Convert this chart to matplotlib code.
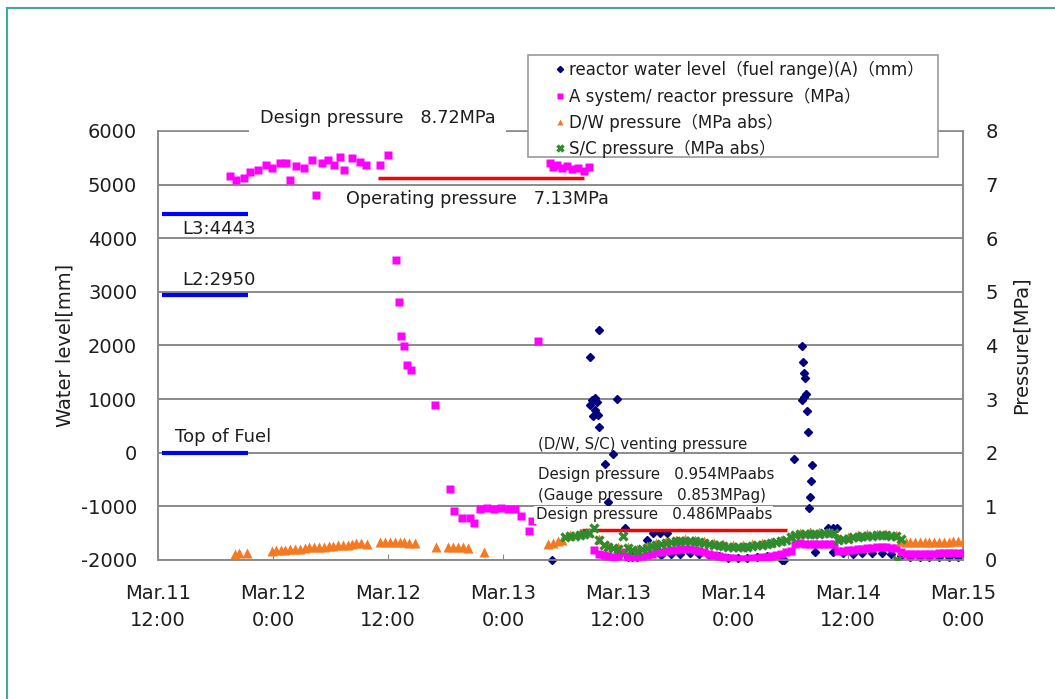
import matplotlib
matplotlib.use('Agg')
import matplotlib.pyplot as plt
from matplotlib.patches import Rectangle

plt.rcParams['font.family'] = ['DejaVu Sans', 'Noto Sans CJK JP']
plt.rcParams['axes.unicode_minus'] = False

# hours after Mar.11 12:00
tick_hours = [0, 12, 24, 36, 48, 60, 72, 84]
tick_labels = ['Mar.11\n12:00', 'Mar.12\n0:00', 'Mar.12\n12:00', 'Mar.13\n0:00',
               'Mar.13\n12:00', 'Mar.14\n0:00', 'Mar.14\n12:00', 'Mar.15\n0:00']

# reactor water level (fuel range)(A)  [mm]
lv_h = [41.1, 45.1, 46.0, 45.3, 45.6, 45.8, 45.1, 45.6, 45.4, 45.9, 46.0, 47.9, 47.5, 46.6, 47.0,
        48.7, 51.0, 51.7, 52.4, 53.1,
        48.0, 49.0, 49.5, 50.0, 52.5, 53.5, 54.5, 55.5, 56.5, 57.5, 58.5, 59.5, 60.5, 61.5, 62.5, 63.5,
        65.1, 65.3,
        67.2, 67.3, 67.4, 67.5, 67.4, 67.6, 67.2, 67.7, 67.8, 66.4, 68.2, 68.1, 68.0, 67.9, 68.6,
        69.9, 70.4, 70.9, 70.4,
        71.5, 72.5, 73.5, 74.5, 75.5, 76.5, 77.5, 78.5, 79.5, 80.5, 81.5, 82.5, 83.5]
lv_mm = [-2000, 1786, 2289, 980, 1020, 946, 890, 797, 685, 700, 480, 1000, -24, -210, -920,
         -1404, -1628, -1500, -1500, -1500,
         -1920, -1950, -1950, -1940, -1910, -1890, -1880, -1875, -1885, -1905, -1935, -1955, -1960,
         -1960, -1950, -1935,
         -2000, -2000,
         1990, 1692, 1487, 1393, 1040, 1095, 983, 778, 386, -117, -229, -527, -826, -1031, -1852,
         -1404, -1404, -1404, -1852,
         -1870, -1880, -1875, -1870, -1875, -1880, -1935, -1945, -1950, -1950, -1945, -1950, -1950]

# A system / reactor pressure [MPa]
rp_h = [7.5, 8.1, 9.0, 9.6, 10.4, 11.3, 11.9, 12.7, 13.4, 13.8, 14.4, 15.2, 16.1, 16.5, 17.1, 17.7,
        18.4, 19.0, 19.4, 20.2, 21.1, 21.7, 23.2, 24.0,
        24.8, 25.1, 25.4, 25.7, 26.0, 26.4, 28.9, 30.5, 30.9, 31.7, 32.6, 33.0, 33.6, 34.3, 35.1,
        35.8, 36.5, 37.3, 37.9, 39.0, 38.7, 39.7,
        40.9, 41.2, 41.6, 42.2, 42.7, 43.2, 43.8, 44.5, 45.0,
        45.5, 46.0, 46.5, 47.0, 47.5, 48.0, 48.5, 49.0, 49.5, 50.0, 50.5, 51.0, 51.5, 52.0, 52.5,
        53.0, 53.5, 54.0, 54.5, 55.0, 55.5, 56.0, 56.5, 57.0, 57.5, 58.0, 58.5, 59.0, 59.5, 60.0,
        60.5, 61.0, 61.5, 62.0, 62.5, 63.0, 63.5, 64.0, 64.5, 65.0, 65.5, 66.0, 66.5, 67.0, 67.5,
        68.0, 68.5, 69.0, 69.5, 70.0, 70.5, 71.0, 71.5, 72.0, 72.5, 73.0, 73.5, 74.0, 74.5, 75.0,
        75.5, 76.0, 76.5, 77.0, 77.5, 78.0, 78.5, 79.0, 79.5, 80.0, 80.5, 81.0, 81.5, 82.0, 82.5,
        83.0, 83.5, 84.0]
rp_mpa = [7.16, 7.09, 7.13, 7.24, 7.28, 7.37, 7.31, 7.41, 7.41, 7.09, 7.35, 7.31, 7.46, 6.81, 7.41,
          7.46, 7.37, 7.52, 7.28, 7.50, 7.43, 7.37, 7.37, 7.56,
          5.60, 4.81, 4.18, 3.99, 3.64, 3.54, 2.89, 1.32, 0.91, 0.78, 0.78, 0.69, 0.95, 0.96, 0.95,
          0.96, 0.95, 0.95, 0.82, 0.73, 0.54, 4.09,
          7.41, 7.33, 7.37, 7.31, 7.35, 7.29, 7.31, 7.26, 7.33,
          0.18, 0.12, 0.09, 0.07, 0.06, 0.07, 0.14, 0.05, 0.03, 0.04, 0.07, 0.10, 0.12, 0.14, 0.15,
          0.17, 0.18, 0.19, 0.20, 0.20, 0.20, 0.19, 0.17, 0.15, 0.12, 0.10, 0.07, 0.05, 0.04, 0.03,
          0.02, 0.02, 0.02, 0.03, 0.04, 0.05, 0.06, 0.08, 0.10, 0.12, 0.14, 0.16, 0.30, 0.31, 0.30,
          0.29, 0.29, 0.29, 0.30, 0.30, 0.30, 0.16, 0.17, 0.18, 0.19, 0.20, 0.21, 0.22, 0.23, 0.24,
          0.24, 0.24, 0.23, 0.22, 0.14, 0.12, 0.12, 0.12, 0.12, 0.12, 0.12, 0.12, 0.13, 0.13, 0.13,
          0.13, 0.13, 0.13]

# D/W pressure [MPa abs]
dw_h = [8.0, 8.5, 9.3,
        11.9, 12.3, 12.8, 13.3, 13.8, 14.3, 14.8,
        15.3, 15.8, 16.3, 16.8, 17.3, 17.8, 18.3, 18.8, 19.3, 19.8,
        20.2, 20.7, 21.2, 21.8,
        23.2, 23.7, 24.2, 24.7, 25.2, 25.7, 26.2, 26.8,
        29.0, 30.3, 30.8, 31.3, 31.8, 32.3, 34.0,
        40.7, 41.2, 41.7, 42.2,
        43, 44, 45, 46, 47, 48, 49, 50, 51, 52, 53, 54, 55, 56, 57, 58, 59, 60, 61, 62, 63, 64,
        65, 66, 67, 68, 69, 70, 71, 72, 73, 74, 75, 76, 77,
        77.5, 78.0, 78.5, 79.0, 79.5, 80.0, 80.5, 81.0, 81.5, 82.0, 82.5, 83.0, 83.5, 84.0]
dw_mpa = [0.12, 0.13, 0.13,
          0.17, 0.18, 0.19, 0.19, 0.20, 0.20, 0.21,
          0.23, 0.24, 0.24, 0.25, 0.25, 0.26, 0.26, 0.27, 0.27, 0.28,
          0.30, 0.31, 0.31, 0.30,
          0.33, 0.34, 0.34, 0.34, 0.33, 0.33, 0.32, 0.32,
          0.25, 0.24, 0.25, 0.24, 0.24, 0.23, 0.14,
          0.30, 0.32, 0.35, 0.38,
          0.47, 0.50, 0.53, 0.40, 0.27, 0.24, 0.25, 0.20, 0.26, 0.31, 0.35, 0.38, 0.39, 0.38, 0.35,
          0.31, 0.29, 0.28, 0.28, 0.29, 0.31, 0.34, 0.38, 0.45, 0.51, 0.52, 0.52, 0.53, 0.41, 0.43,
          0.46, 0.48, 0.49, 0.49, 0.47,
          0.36, 0.34, 0.33, 0.33, 0.33, 0.33, 0.33, 0.34, 0.34, 0.34, 0.34, 0.35, 0.35, 0.36]

# S/C pressure [MPa abs]
sc_h = [42.5, 43.0, 43.5, 44.0, 44.5, 45.0, 45.5, 46.0, 46.5, 47.0, 47.5, 48.0, 48.5, 49.0, 49.5,
        50.0, 50.5, 51.0, 51.5, 52.0, 52.5, 53.0, 53.5, 54.0, 54.5, 55.0, 55.5, 56.0, 56.5, 57.0,
        57.5, 58.0, 58.5, 59.0, 59.5, 60.0, 60.5, 61.0, 61.5, 62.0, 62.5, 63.0, 63.5, 64.0, 64.5,
        65.0, 65.5, 66.0, 66.5, 67.0, 67.5, 68.0, 68.5, 69.0, 69.5, 70.0, 70.5, 71.0, 71.5, 72.0,
        72.5, 73.0, 73.5, 74.0, 74.5, 75.0, 75.5, 76.0, 76.5, 77.0, 77.5, 77.1]
sc_mpa = [0.42, 0.44, 0.45, 0.47, 0.48, 0.50, 0.60, 0.38, 0.28, 0.24, 0.22, 0.21, 0.45, 0.22, 0.18,
          0.17, 0.20, 0.23, 0.26, 0.28, 0.30, 0.32, 0.34, 0.35, 0.36, 0.36, 0.36, 0.35, 0.34, 0.32,
          0.30, 0.28, 0.27, 0.26, 0.25, 0.25, 0.25, 0.25, 0.25, 0.26, 0.27, 0.28, 0.30, 0.31, 0.33,
          0.35, 0.38, 0.42, 0.46, 0.48, 0.48, 0.49, 0.49, 0.49, 0.50, 0.50, 0.51, 0.38, 0.39, 0.40,
          0.42, 0.43, 0.44, 0.45, 0.45, 0.46, 0.46, 0.46, 0.45, 0.44, 0.40, 0.0]

# reference water levels (blue) and pressures (red)
level_vals = [4443, 2950, 0]
level_names = ['L3:4443', 'L2:2950', 'Top of Fuel']
op_pressure = 7.13
vent_pressure = 0.55

fig = plt.figure(figsize=(10.55, 6.99), dpi=100)
ax = fig.add_axes([0.1498, 0.1989, 0.7630, 0.6137])
ax2 = ax.twinx()

grey = '#8a8a8a'
txt = '#1e1e1e'
ax.set_xlim(0, 84)
ax.set_ylim(-2000, 6000)
ax.set_yticks(range(-2000, 6001, 1000))
ax.yaxis.grid(True, color=grey, lw=1.4)
ax.set_axisbelow(True)
ax2.set_ylim(0, 8)
ax2.set_yticks(range(0, 9))

for a in (ax, ax2):
    for s in a.spines.values():
        s.set_color(grey)
        s.set_linewidth(1.2)
ax2.spines['top'].set_visible(False)

ax.set_xticks(tick_hours)
ax.set_xticklabels(tick_labels, fontsize=14, color=txt)
for lbl in ax.get_xticklabels():
    lbl.set_linespacing(1.55)
ax.tick_params(axis='x', direction='in', length=4, color=grey, pad=17)
ax.tick_params(axis='y', length=0, pad=15, labelsize=14, labelcolor=txt)
ax2.tick_params(axis='y', length=0, pad=16, labelsize=14, labelcolor=txt)

ax.set_ylabel('Water level[mm]', fontsize=14, color=txt, labelpad=5)
ax2.set_ylabel('Pressure[MPa]', fontsize=14, color=txt, labelpad=10)

# reference lines
ax.hlines(level_vals, 0.4, 9.4, color='#0000ff', lw=3)
ax.text(2.5, 4172, level_names[0], fontsize=13, color=txt, va='center')
ax.text(2.5, 3221, level_names[1], fontsize=13, color=txt, va='center')
ax.text(1.8, 293, level_names[2], fontsize=13, color=txt, va='center')
ax2.hlines(op_pressure, 23.0, 44.4, color='#ff0000', lw=2.5)
ax2.hlines(vent_pressure, 44.2, 65.6, color='#ff0000', lw=2.5)

# data
h1, = ax.plot(lv_h, lv_mm, 'D', ls='none', color='#000080', ms=4.5, clip_on=False, zorder=3)
h2, = ax2.plot(rp_h, rp_mpa, 's', ls='none', color='#ff00ff', ms=6, mec='none', zorder=3)
h3, = ax2.plot(dw_h, dw_mpa, '^', ls='none', color='#f47920', ms=6.5, mec='none', zorder=3)
h4, = ax2.plot(sc_h, sc_mpa, 'x', ls='none', color='#2e8b2e', ms=5.5, mew=2.4, zorder=4)

# annotations
fig.text(260 / 1055, 1 - 118 / 699, 'Design pressure   8.72MPa', fontsize=12.7, color=txt,
         va='center', ha='left', bbox=dict(boxstyle='square,pad=0.6', fc='white', ec='none'))
ax2.text(19.6, 6.73, 'Operating pressure   7.13MPa', fontsize=12.7, color=txt, va='center')
ax2.text(39.65, 2.16, '(D/W, S/C) venting pressure', fontsize=10.8, color=txt, va='center')
ax2.text(39.65, 1.59, 'Design pressure   0.954MPaabs', fontsize=10.8, color=txt, va='center')
ax2.text(39.65, 1.21, '(Gauge pressure   0.853MPag)', fontsize=10.8, color=txt, va='center')
ax2.text(39.4, 0.84, 'Design pressure   0.486MPaabs', fontsize=10.8, color=txt, va='center',
         bbox=dict(boxstyle='square,pad=0.1', fc='white', ec='none'))

# legend box (Excel style, wide left margin)
ax2.add_patch(Rectangle((528 / 1055, 1 - 157 / 699), 410 / 1055, 102 / 699,
                        transform=fig.transFigure, clip_on=False, fc='white', ec='#9a9a9a',
                        lw=1.2, zorder=4.5))
leg = ax2.legend([h1, h2, h3, h4],
                 ['reactor water level（fuel range)(A)（mm）',
                  'A system/ reactor pressure（MPa）',
                  'D/W pressure（MPa abs）',
                  'S/C pressure（MPa abs）'],
                 loc='upper left', bbox_to_anchor=(555 / 1055, 1 - 61 / 699),
                 bbox_transform=fig.transFigure, fontsize=12, frameon=False,
                 borderaxespad=0, borderpad=0, handlelength=0.6, handletextpad=0.25,
                 labelspacing=0.48, markerscale=0.7, labelcolor=txt)
leg.set_zorder(5)

# outer frame of the slide
fig.add_artist(plt.Line2D([7 / 1055, 1], [1 - 8 / 699, 1 - 8 / 699], color='#3fa99a', lw=1.5,
                          transform=fig.transFigure))
fig.add_artist(plt.Line2D([7 / 1055, 7 / 1055], [0, 1 - 8 / 699], color='#3fa99a', lw=1.5,
                          transform=fig.transFigure))

fig.savefig('out.png', dpi=100)
